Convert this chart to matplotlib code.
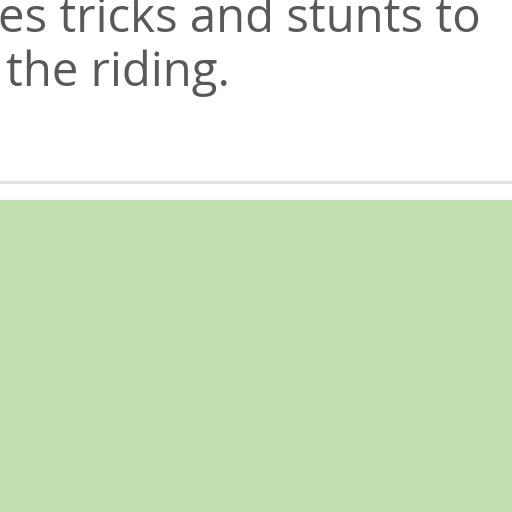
import matplotlib.pyplot as plt
from matplotlib.patches import Rectangle

lines = ["es tricks and stunts to", "the riding."]
line_x = [-2, 6]
baselines = [32, 86]
text_color = "#595959"
green = "#c1e0b0"

fig = plt.figure(figsize=(5.12, 5.12), dpi=100)
ax = fig.add_axes([0, 0, 1, 1])
ax.set_xlim(0, 512)
ax.set_ylim(512, 0)
ax.axis("off")

for s, x, y in zip(lines, line_x, baselines):
    ax.text(x, y, s, fontsize=34, family="Open Sans", color=text_color,
            va="baseline", ha="left")

ax.plot([0, 512], [182, 182], color="#e2e2e2", lw=2.2)
ax.add_patch(Rectangle((0, 200), 512, 312, color=green, lw=0))

fig.savefig("out.png", dpi=100)
